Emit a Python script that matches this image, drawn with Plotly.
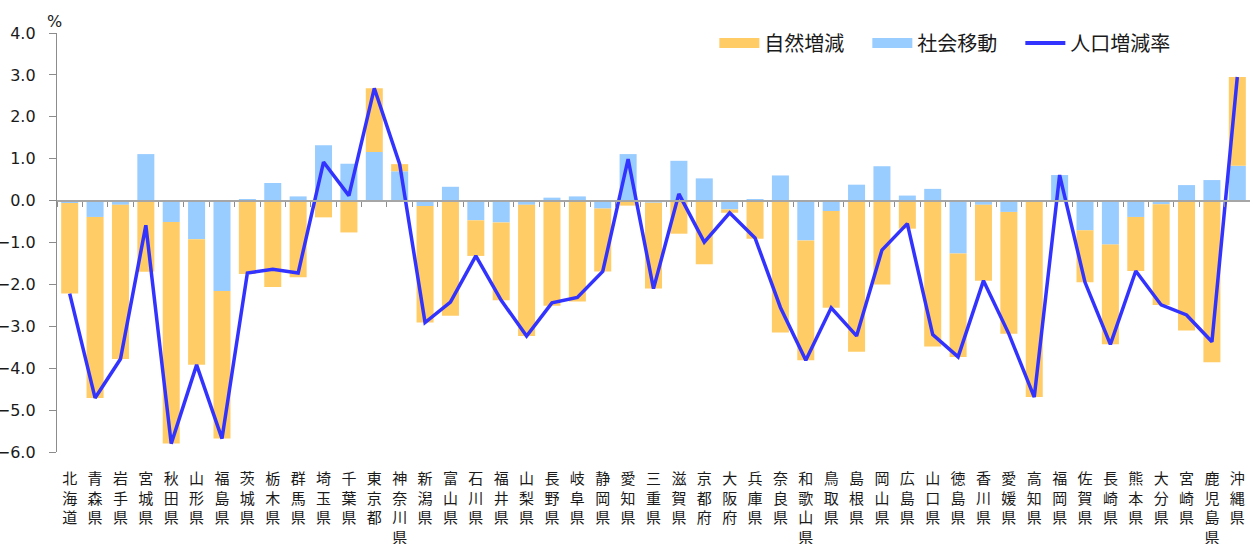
import plotly.graph_objects as go

prefectures = ["北海道","青森県","岩手県","宮城県","秋田県","山形県","福島県","茨城県","栃木県","群馬県",
               "埼玉県","千葉県","東京都","神奈川県","新潟県","富山県","石川県","福井県","山梨県","長野県",
               "岐阜県","静岡県","愛知県","三重県","滋賀県","京都府","大阪府","兵庫県","奈良県","和歌山県",
               "鳥取県","島根県","岡山県","広島県","山口県","徳島県","香川県","愛媛県","高知県","福岡県",
               "佐賀県","長崎県","熊本県","大分県","宮崎県","鹿児島県","沖縄県"]

natural = [-2.16,-4.32,-3.68,-1.70,-5.29,-3.00,-3.52,-1.75,-2.06,-1.83,
           -0.40,-0.76,1.52,0.17,-2.78,-2.75,-0.85,-1.86,-3.13,-2.51,
           -2.41,-1.50,-0.12,-2.05,-0.79,-1.52,-0.08,-0.91,-3.15,-2.86,
           -2.31,-3.61,-2.00,-0.67,-3.48,-2.47,-1.81,-2.91,-4.68,0.00,
           -1.24,-2.38,-1.29,-2.40,-3.10,-3.86,2.12]

social = [-0.06,-0.39,-0.10,1.11,-0.51,-0.92,-2.16,0.02,0.42,0.10,
          1.32,0.88,1.16,0.70,-0.13,0.33,-0.47,-0.52,-0.10,0.07,
          0.10,-0.19,1.11,-0.05,0.95,0.53,-0.21,0.02,0.60,-0.95,
          -0.25,0.38,0.82,0.12,0.28,-1.26,-0.10,-0.27,-0.01,0.61,
          -0.71,-1.05,-0.39,-0.09,0.37,0.49,0.83]

total = [-2.22,-4.71,-3.78,-0.59,-5.80,-3.92,-5.68,-1.73,-1.64,-1.73,
         0.92,0.12,2.68,0.87,-2.91,-2.42,-1.32,-2.38,-3.23,-2.44,
         -2.31,-1.69,0.99,-2.10,0.16,-0.99,-0.29,-0.89,-2.55,-3.81,
         -2.56,-3.23,-1.18,-0.55,-3.20,-3.73,-1.91,-3.18,-4.69,0.61,
         -1.95,-3.43,-1.68,-2.49,-2.73,-3.37,2.95]

series_names = ["自然増減", "社会移動", "人口増減率"]
y_ticks = [4, 3, 2, 1, 0, -1, -2, -3, -4, -5, -6]

C_NAT = "#FFCC66"
C_SOC = "#99CCFF"
C_LINE = "#3333FF"

labels = ["<br>".join(list(p)) for p in prefectures]

fig = go.Figure()
# stacking: social closest to zero, natural outside
fig.add_trace(go.Bar(x=labels, y=social, name=series_names[1], marker_color=C_SOC,
                     marker_line_width=0, showlegend=False))
fig.add_trace(go.Bar(x=labels, y=natural, name=series_names[0], marker_color=C_NAT,
                     marker_line_width=0, showlegend=False))
fig.add_trace(go.Scatter(x=labels, y=total, name=series_names[2], mode="lines",
                         line=dict(color=C_LINE, width=3.5), showlegend=False))

# legend entries
for nm, col, w in [(series_names[0], C_NAT, 12), (series_names[1], C_SOC, 12), (series_names[2], C_LINE, 4)]:
    fig.add_trace(go.Scatter(x=[None], y=[None], mode="lines", name=nm,
                             line=dict(color=col, width=w), showlegend=True))

# overlay axis used to draw the zero axis line with boundary ticks
fig.add_trace(go.Scatter(x=[None], y=[None], xaxis="x2", showlegend=False, hoverinfo="skip"))

n = len(prefectures)
fig.update_layout(
    width=1250, height=544,
    margin=dict(l=57, r=0, t=33, b=92, autoexpand=False),
    paper_bgcolor="white", plot_bgcolor="white",
    barmode="relative", bargap=0.33,
    font=dict(family="Noto Sans CJK JP", color="#1a1a1a"),
    xaxis=dict(type="category", showline=False, ticks="", showgrid=False, zeroline=False,
               tickfont=dict(size=15, family="Noto Sans CJK JP", color="#1a1a1a"),
               tickangle=0, automargin=False, range=[-0.5, n - 0.5], ticklabelstandoff=16),
    xaxis2=dict(overlaying="x", anchor="free", position=0.6, side="bottom",
                range=[-0.5, n - 0.5], tick0=-0.5, dtick=1, ticks="outside", ticklen=5,
                tickcolor="#8c8c8c", tickwidth=1.3, showticklabels=False,
                showline=True, linecolor="#a6a6a6", linewidth=2, showgrid=False, zeroline=False),
    yaxis=dict(range=[-6, 4], tickvals=y_ticks, tickformat=".1f", ticks="outside", ticklen=7,
               tickcolor="#8c8c8c", showline=True, linecolor="#8c8c8c", linewidth=1.3,
               showgrid=False, zeroline=False, automargin=False, ticklabelstandoff=10,
               tickfont=dict(size=16, family="DejaVu Sans", color="#1a1a1a")),
    legend=dict(orientation="h", x=0.551, y=0.976, xanchor="left", yanchor="middle",
                font=dict(size=20, family="Noto Sans CJK JP", color="#1a1a1a"),
                bgcolor="rgba(0,0,0,0)", itemwidth=40, entrywidth=98),
    annotations=[dict(text="%", xref="paper", yref="paper", x=-0.002, y=1, xanchor="center",
                      yanchor="bottom", showarrow=False, yshift=0,
                      font=dict(size=16, family="DejaVu Sans", color="#1a1a1a"))],
)

fig.write_html("out.html", config={"displayModeBar": False},
               post_script="document.body.style.margin='0';")
